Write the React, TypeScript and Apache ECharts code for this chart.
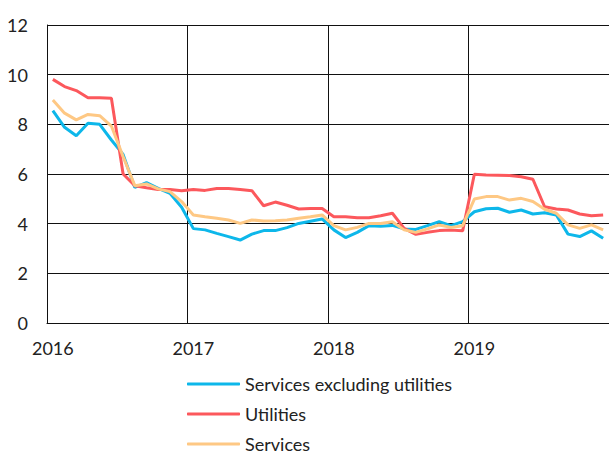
import React, { useEffect, useRef } from "react";
import * as echarts from "echarts";

const years = ["2016", "2017", "2018", "2019"];
const monthNums = ["01", "02", "03", "04", "05", "06", "07", "08", "09", "10", "11", "12"];
const categories: string[] = [];
years.forEach((y) => monthNums.forEach((m) => categories.push(`${y}-${m}`)));

const servicesExUtilities = [
  8.55, 7.88, 7.54, 8.04, 8.0, 7.37, 6.79, 5.46, 5.65, 5.42, 5.22, 4.66,
  3.8, 3.75, 3.61, 3.48, 3.34, 3.58, 3.72, 3.72, 3.84, 4.01, 4.1, 4.19,
  3.75, 3.44, 3.65, 3.92, 3.9, 3.93, 3.79, 3.77, 3.92, 4.08, 3.92, 4.08,
  4.48, 4.6, 4.62, 4.46, 4.55, 4.39, 4.44, 4.35, 3.58, 3.48, 3.71, 3.41,
];
const utilities = [
  9.81, 9.52, 9.36, 9.07, 9.07, 9.05, 6.0, 5.53, 5.45, 5.38, 5.38, 5.33,
  5.38, 5.34, 5.42, 5.42, 5.38, 5.33, 4.72, 4.87, 4.74, 4.59, 4.61, 4.61,
  4.28, 4.28, 4.24, 4.24, 4.32, 4.42, 3.81, 3.57, 3.65, 3.72, 3.74, 3.71,
  5.99, 5.96, 5.95, 5.94, 5.89, 5.79, 4.68, 4.59, 4.55, 4.39, 4.32, 4.35,
];
const services = [
  8.98, 8.45, 8.18, 8.4, 8.35, 7.93, 6.7, 5.53, 5.6, 5.4, 5.29, 4.89,
  4.35, 4.28, 4.22, 4.15, 4.01, 4.15, 4.11, 4.12, 4.15, 4.22, 4.28, 4.35,
  3.92, 3.75, 3.85, 4.01, 4.01, 4.08, 3.75, 3.65, 3.79, 3.95, 3.85, 3.92,
  4.99, 5.09, 5.09, 4.95, 5.02, 4.89, 4.58, 4.42, 3.95, 3.81, 3.95, 3.75,
];

const seriesNames = ["Services excluding utilities", "Utilities", "Services"];
const seriesColors = ["#0db7ea", "#fc585c", "#fec884"];
const seriesData = [servicesExUtilities, utilities, services];

const FONT = "Lato";
const legendTops = [375, 405, 435];

export default function App() {
  const ref = useRef<HTMLDivElement>(null);
  useEffect(() => {
    if (!ref.current) return;
    const chart = echarts.init(ref.current, undefined, { renderer: "svg" });
    chart.setOption({
      animation: false,
      grid: { left: 47, right: 0, top: 25, bottom: 133, containLabel: false },
      legend: seriesNames.map((name, i) => ({
        orient: "vertical",
        left: 187,
        top: legendTops[i],
        padding: 0,
        icon: "roundRect",
        itemWidth: 53,
        itemHeight: 3,
        itemStyle: { borderWidth: 0 },
        textStyle: { fontFamily: FONT, fontSize: 18, color: "#222", lineHeight: 18 },
        data: [name],
      })),
      xAxis: {
        type: "category",
        data: categories,
        boundaryGap: true,
        axisLine: { show: true, lineStyle: { color: "#111", width: 1 } },
        axisTick: { show: false, interval: 11 },
        axisLabel: {
          interval: 11,
          margin: 16,
          fontFamily: FONT,
          fontSize: 18,
          color: "#222",
          formatter: (v: string) => v.slice(0, 4),
        },
        splitLine: { show: true, interval: 11, lineStyle: { color: "#111", width: 1 } },
      },
      yAxis: {
        type: "value",
        min: 0,
        max: 12,
        interval: 2,
        axisLine: { show: true, lineStyle: { color: "#111", width: 1 } },
        axisTick: { show: false },
        axisLabel: { margin: 19, fontFamily: FONT, fontSize: 18, color: "#222" },
        splitLine: { show: true, lineStyle: { color: "#111", width: 1 } },
      },
      series: seriesNames.map((name, i) => ({
        name,
        type: "line",
        data: seriesData[i],
        symbol: "none",
        itemStyle: { color: seriesColors[i] },
        lineStyle: { color: seriesColors[i], width: 3 },
      })),
    });
    return () => chart.dispose();
  }, []);
  return <div ref={ref} style={{ width: 609, height: 456, position: "absolute", left: 0, top: 0 }} />;
}
